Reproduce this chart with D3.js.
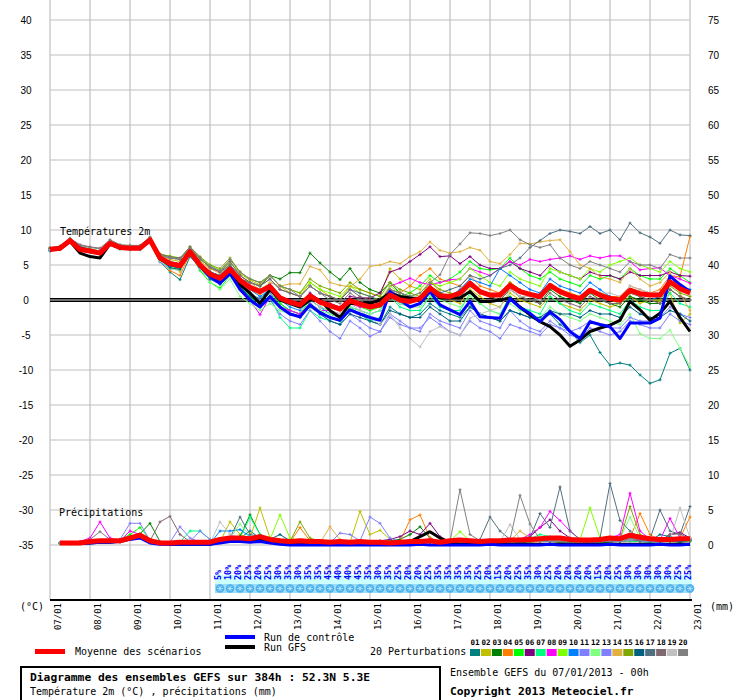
<!DOCTYPE html>
<html>
<head>
<meta charset="utf-8">
<script src="https://cdn.jsdelivr.net/npm/d3@7"></script>
<style>
  body { margin: 0; background: #fff; }
  svg { display: block; }
</style>
</head>
<body>
<div id="chart"></div>
<script>
// ---- Data ----
const dayLabels = ['07/01','08/01','09/01','10/01','11/01','12/01','13/01','14/01','15/01',
  '16/01','17/01','18/01','19/01','20/01','21/01','22/01','23/01'];
const tempTicks = [40,35,30,25,20,15,10,5,0,-5,-10,-15,-20,-25,-30,-35];
const precipTicks = [75,70,65,60,55,50,45,40,35,30,25,20,15,10,5,0];

const perturbColors = ['#008080','#c0c000','#008000','#ff8000','#00ff00','#800080','#00ff80','#ff00ff',
  '#80ff00','#0080ff','#8080ff','#80ff80','#8080ff','#e0b040','#80a800','#006080',
  '#507080','#806870','#c0c0c0','#808080'];

// temperatures 2m, every 6h from 07/01 00h (65 values)
const tempMean = [7.2,7.4,8.5,7.2,7.0,6.7,8.1,7.5,7.4,7.4,8.6,6.0,5.2,4.9,6.9,5.0,
  3.7,3.1,4.4,2.8,1.8,1.2,1.9,0.3,-0.3,-0.7,0.6,-0.3,-0.8,-1.3,-0.1,-0.6,
  -1.0,-0.7,0.7,0.0,-0.2,0.2,1.7,0.6,0.5,1.0,2.4,1.2,0.7,0.7,2.1,1.2,
  0.8,0.5,2.1,1.2,0.6,0.2,1.4,0.7,0.2,0.0,1.4,0.9,0.7,0.7,2.6,1.6,1.0];
const tempControl = [7.2,7.4,8.5,7.4,7.0,6.7,8.1,7.4,7.4,7.4,8.6,5.9,5.0,4.8,6.9,4.8,
  3.4,2.4,3.8,1.5,0.0,-1.0,0.5,-1.0,-2.0,-2.4,-0.7,-1.8,-2.5,-2.9,-1.4,-2.0,
  -2.5,-2.9,1.2,0.0,-1.0,-0.5,1.2,-0.7,-1.4,-2.1,-0.2,-2.4,-2.5,-2.6,0.2,-1.1,
  -1.9,-3.1,-1.7,-2.8,-4.5,-5.5,-3.1,-3.5,-3.8,-5.5,-3.3,-3.3,-3.3,-2.6,3.4,2.2,1.2];
const tempGFS = [7.2,7.3,8.4,6.7,6.2,6.0,8.0,7.4,7.4,7.4,8.5,5.9,5.1,4.8,6.8,4.9,
  3.6,3.0,4.3,2.2,1.0,-0.5,1.5,0.0,-0.5,-1.0,0.0,0.0,-1.5,-2.5,-0.5,-0.5,
  -0.5,0.0,1.0,0.5,0.3,0.2,1.5,0.3,0.3,0.3,1.2,-0.2,-0.2,0.0,0.3,-1.0,
  -2.1,-3.1,-3.8,-5.0,-6.6,-5.7,-4.5,-4.0,-3.6,-2.9,-0.2,-1.4,-2.9,-1.9,-0.2,-2.5,-4.5];
const tempPerturb = [
  // 01
  [7.0,7.2,8.4,7.2,6.8,6.6,8.0,7.4,7.2,7.3,8.5,5.5,4.0,2.9,6.2,4.6,
   3.0,2.5,4.0,2.0,0.8,0.2,1.5,-0.5,-1.5,-2.0,-0.5,-1.5,-2.5,-3.0,-1.5,-2.0,
   -3.0,-3.5,-1.0,-2.0,-2.5,-2.0,-0.5,-1.5,-2.0,-2.5,-1.0,-2.0,-2.5,-3.0,-1.5,-2.0,
   -2.5,-3.0,-2.0,-3.5,-4.5,-6.1,-5.0,-7.5,-9.3,-9.0,-9.3,-10.7,-11.9,-11.4,-7.6,-6.9,-10.0],
  // 02
  [7.4,7.6,8.7,7.6,7.2,7.0,8.3,7.8,7.6,7.6,8.9,6.4,5.8,5.5,7.2,5.6,
   4.5,4.0,5.3,3.8,2.8,2.2,3.5,2.0,1.0,0.5,2.5,1.5,0.5,0.0,2.0,1.5,
   1.0,0.5,4.5,3.0,2.0,1.5,3.0,1.0,0.0,-0.5,1.5,0.5,-0.5,-1.0,1.0,0.0,
   -0.5,-1.0,0.5,-0.5,-1.0,-1.5,0.0,-0.5,-1.0,-0.5,0.5,-0.5,0.0,-0.2,1.0,-3.3,-2.0],
  // 03
  [7.3,7.5,8.6,7.5,7.1,6.8,8.2,7.6,7.5,7.5,8.7,6.2,5.4,5.0,7.0,5.2,
   4.0,3.5,4.8,3.0,2.5,2.0,3.5,3.0,3.9,3.9,6.7,5.3,4.0,2.9,4.5,2.5,
   1.5,1.0,2.5,1.0,0.5,0.0,2.0,1.0,0.5,0.5,2.0,1.0,0.5,0.0,1.5,0.5,
   0.0,-0.5,1.5,0.5,0.0,-0.5,1.0,0.0,-0.5,-1.0,0.5,0.0,-0.5,-0.5,1.5,0.5,0.0],
  // 04
  [7.2,7.4,8.5,7.4,7.0,6.7,8.0,7.4,7.3,7.3,8.5,5.8,4.2,3.5,6.6,4.8,
   3.5,3.0,4.3,2.5,1.5,0.8,1.8,0.0,-0.5,-1.0,0.5,-0.5,-1.0,-1.5,0.0,-0.5,
   -0.5,0.0,1.5,1.0,2.0,3.5,4.5,3.0,2.5,2.0,3.5,2.0,1.5,1.0,2.5,1.5,
   1.0,0.5,2.0,1.5,1.0,0.5,1.5,1.0,0.5,0.5,2.0,1.5,1.0,1.5,3.5,3.3,9.1],
  // 05
  [7.1,7.3,8.4,7.3,6.9,6.6,7.9,7.3,7.3,7.3,8.5,5.7,4.8,4.5,6.8,4.2,
   2.5,1.7,3.5,1.5,0.5,-0.5,1.0,-0.5,-1.5,-2.0,0.0,-1.0,-1.5,-2.0,-0.5,-1.0,
   -1.5,-1.0,1.0,0.5,1.0,2.0,3.5,2.5,3.0,4.0,5.5,4.5,4.3,4.5,6.0,4.5,
   3.5,3.0,4.0,3.0,2.5,2.0,3.5,3.0,3.5,3.0,4.5,3.5,3.0,3.0,4.5,3.5,2.5],
  // 06
  [7.3,7.5,8.6,7.5,7.1,6.8,8.2,7.6,7.5,7.5,8.7,6.2,5.5,5.2,7.1,5.3,
   4.0,3.4,4.6,3.0,2.0,1.5,2.3,0.5,0.0,-0.5,1.0,0.0,-0.5,-1.0,0.5,0.3,
   0.3,1.0,4.0,4.5,5.5,6.5,7.6,6.2,6.3,5.2,6.2,5.0,4.5,4.5,5.5,4.5,
   4.0,3.5,5.0,4.0,3.5,3.0,4.0,3.5,3.5,3.0,4.0,3.5,3.5,3.5,4.0,3.5,3.4],
  // 07
  [7.1,7.3,8.4,7.3,6.9,6.6,8.0,7.3,7.2,7.2,8.4,5.8,5.0,4.6,6.6,4.8,
   3.2,2.6,3.8,2.0,0.5,-1.0,0.5,-2.5,-4.0,-4.0,-1.5,-2.5,-3.0,-3.5,-1.0,-2.0,
   -3.0,-2.5,0.5,-1.0,-1.5,-1.5,0.5,-1.0,-1.5,-1.5,1.0,-0.5,-1.5,-2.0,0.5,-1.0,
   -1.5,-2.0,0.5,-0.5,-1.5,-2.0,-0.5,-1.0,-1.5,-2.0,0.0,-1.0,-1.5,-1.5,1.0,-0.5,-1.0],
  // 08
  [7.3,7.4,8.5,7.4,7.0,6.7,8.1,7.5,7.4,7.4,8.6,6.0,5.2,4.9,6.9,5.0,
   3.5,2.8,4.2,2.0,0.0,-2.1,0.5,-1.0,-1.5,-2.0,-0.5,-1.5,-1.5,-2.0,-0.5,-1.0,
   -1.0,-0.5,2.0,2.5,3.1,2.5,2.2,2.5,2.9,3.0,4.5,4.0,3.5,4.5,5.5,5.0,
   5.8,5.5,5.8,6.0,6.3,5.8,6.3,6.0,6.3,6.3,5.5,4.3,4.5,4.6,3.5,3.0,2.4],
  // 09
  [7.4,7.5,8.7,7.6,7.2,6.9,8.3,7.7,7.6,7.6,8.9,6.5,6.3,6.0,7.5,6.0,
   5.0,4.2,5.5,4.0,3.0,2.5,3.5,2.0,1.5,1.0,2.5,1.5,1.0,0.5,2.0,1.0,
   0.5,0.0,2.0,1.0,0.5,1.0,2.5,2.0,2.5,3.0,4.5,3.5,2.5,2.0,4.0,3.0,
   2.5,2.0,4.5,4.0,3.5,3.0,4.5,4.0,5.0,5.5,6.0,5.0,4.5,4.0,5.5,4.5,4.0],
  // 10
  [7.2,7.4,8.5,7.3,6.9,6.7,8.1,7.5,7.4,7.4,8.6,6.0,5.4,5.1,7.0,5.1,
   4.0,3.5,5.0,3.0,1.5,0.5,1.5,0.0,-1.0,-1.5,0.0,-1.0,-2.0,-2.5,-1.0,-1.5,
   -2.0,-1.5,0.5,-0.5,-1.0,-0.5,1.5,0.5,0.5,1.5,3.0,2.5,2.0,4.5,3.5,2.5,
   1.5,1.0,3.0,2.0,1.5,1.0,2.5,1.5,0.5,0.0,1.5,0.5,0.0,0.5,3.5,2.0,1.5],
  // 11
  [7.0,7.2,8.3,7.2,6.8,6.5,7.8,7.3,7.2,7.2,8.3,5.4,4.5,4.2,6.5,4.4,
   3.0,2.2,3.5,1.5,0.0,-1.0,0.0,-2.0,-3.0,-3.5,-1.5,-3.0,-4.5,-5.5,-3.0,-4.0,
   -5.2,-4.5,-2.0,-3.0,-4.0,-4.5,-2.0,-3.0,-3.5,-4.0,-1.5,-3.0,-3.5,-4.0,-1.5,-3.0,
   -4.0,-4.5,-3.0,-4.0,-5.0,-5.5,-4.0,-4.5,-5.0,-4.5,-3.0,-3.5,-4.0,-4.0,-2.0,-3.0,-3.5],
  // 12
  [7.1,7.3,8.4,7.3,6.9,6.6,7.9,7.3,7.2,7.2,8.4,5.6,4.5,4.2,6.6,4.5,
   2.5,1.5,3.0,0.5,-0.5,-1.5,-0.5,-1.5,-2.0,-2.5,-0.5,-1.5,-2.0,-2.5,-1.0,-1.5,
   -2.0,-1.5,0.5,-0.5,-1.0,-1.0,0.5,0.0,-0.5,-1.0,0.5,-0.5,-1.5,-2.0,-0.5,-1.5,
   -2.0,-2.5,-1.0,-2.0,-2.5,-3.0,-2.0,-2.5,-3.0,-3.5,-2.0,-4.8,-5.5,-5.5,-4.3,-6.9,-9.5],
  // 13
  [7.2,7.4,8.5,7.4,7.0,6.7,8.0,7.4,7.3,7.3,8.5,5.9,5.0,4.7,6.8,4.9,
   3.4,2.8,4.0,2.5,1.0,0.0,1.0,-1.0,-2.0,-2.5,-0.5,-2.0,-3.0,-3.5,-2.0,-3.0,
   -4.0,-4.5,-2.5,-3.5,-4.0,-4.0,-2.5,-3.5,-4.5,-5.0,-3.0,-4.0,-4.5,-5.5,-3.5,-4.0,
   -4.5,-5.0,-3.5,-4.0,-4.5,-4.0,-3.0,-3.5,-4.0,-4.0,-2.5,-3.0,-3.0,-2.5,-1.0,-2.0,-2.5],
  // 14
  [7.3,7.5,8.6,7.6,7.2,6.9,8.2,7.6,7.5,7.5,8.7,6.3,5.8,4.0,7.0,5.5,
   4.5,3.8,5.0,3.5,2.5,1.5,2.5,2.0,2.3,2.3,4.8,4.3,2.5,2.1,1.9,3.0,
   4.8,5.0,5.5,5.2,6.2,6.9,8.3,7.1,6.7,6.9,7.5,7.1,5.5,5.2,6.5,8.1,
   8.0,8.3,8.5,8.6,6.9,5.0,4.5,3.3,3.0,2.5,4.5,3.0,2.0,2.5,4.0,1.0,-1.5],
  // 15
  [7.4,7.6,8.7,7.7,7.3,7.0,8.4,7.8,7.7,7.7,8.9,6.6,6.2,5.8,7.6,6.2,
   5.0,4.5,6.0,4.0,3.0,2.5,3.5,2.0,1.5,1.0,3.0,2.0,1.5,1.0,2.5,1.5,
   1.0,0.5,2.5,1.5,1.0,0.5,2.5,1.5,1.0,0.5,2.5,1.0,0.5,0.5,2.5,1.5,
   1.0,0.5,2.0,1.0,0.5,0.0,1.5,0.5,0.0,-0.5,1.0,0.5,0.0,0.0,2.0,1.0,0.5],
  // 16
  [7.1,7.3,8.4,7.3,6.9,6.6,8.0,7.4,7.3,7.3,8.5,5.8,4.6,4.4,6.7,4.7,
   3.0,2.3,3.8,1.8,0.5,-0.5,0.5,-1.0,-2.0,-2.5,-1.0,-2.0,-3.0,-3.5,-2.0,-2.5,
   -3.0,-3.5,-1.5,-2.0,-2.5,-2.5,-1.0,-2.0,-3.0,-3.0,-1.0,-2.0,-2.5,-3.0,-1.5,-2.0,
   -2.5,-2.5,-1.5,-2.0,-2.0,-2.5,-1.5,-2.0,-2.0,-2.5,-1.0,-2.0,-2.5,-2.5,-1.5,-2.0,-3.0],
  // 17
  [7.3,7.5,8.6,7.6,7.2,6.9,8.3,7.7,7.6,7.6,8.8,6.4,6.0,5.8,7.3,5.8,
   4.8,4.0,5.0,3.5,2.5,2.0,3.0,1.5,1.0,0.5,2.0,1.0,0.5,0.0,1.5,1.0,
   0.5,0.0,1.5,1.0,0.5,0.0,1.5,1.0,1.5,2.0,3.5,3.0,3.5,4.5,5.0,6.0,
   7.5,8.5,9.5,10.0,9.8,9.5,10.5,9.5,10.0,8.6,11.0,9.6,9.0,8.1,10.0,9.3,9.2],
  // 18
  [7.5,7.7,8.8,7.9,7.6,7.4,8.6,7.9,7.8,7.8,9.0,6.5,6.2,6.0,7.6,6.0,
   4.6,4.0,5.5,3.5,2.5,2.0,3.0,1.5,1.0,0.5,2.0,1.0,0.5,0.0,1.5,0.5,
   0.0,-0.5,1.5,0.5,0.5,0.0,1.5,0.5,0.0,0.5,2.0,1.0,0.5,0.0,1.5,0.5,
   0.0,-0.5,1.0,0.0,-0.5,-1.0,0.5,0.0,-0.5,-0.5,1.0,0.5,0.0,-0.5,1.5,0.5,0.0],
  // 19
  [7.2,7.4,8.5,7.4,7.0,6.7,8.1,7.5,7.4,7.4,8.6,6.0,5.0,4.8,6.8,5.0,
   3.6,3.0,4.3,2.5,1.5,1.0,1.8,0.0,-0.5,-1.0,0.0,-1.0,-1.5,-2.0,-0.5,-1.5,
   -2.5,-3.5,-2.0,-4.0,-5.5,-6.7,-4.5,-3.8,-4.5,-5.0,-2.6,-2.0,-1.5,-1.0,1.5,0.5,
   0.5,0.0,2.0,1.0,0.5,0.0,1.5,1.0,1.0,0.5,2.0,1.5,1.0,1.0,2.5,1.5,1.0],
  // 20
  [7.4,7.6,8.8,7.8,7.5,7.3,8.4,7.8,7.7,7.7,8.9,6.4,6.0,5.8,7.4,5.9,
   4.8,4.2,5.8,4.0,3.0,2.5,3.5,2.0,1.5,0.5,2.0,1.0,0.0,-0.5,1.0,0.0,
   -1.0,-0.5,1.5,1.0,0.5,1.0,2.5,3.6,6.5,8.0,9.6,9.5,9.2,9.5,10.0,8.6,
   7.9,7.5,7.9,6.0,5.0,4.5,5.5,5.0,4.5,4.0,5.5,5.0,5.0,4.5,6.5,6.0,6.0]
];

// precipitations (mm), every 6h from 07/01 06h (64 values)
const precipMean = [0.3,0.3,0.3,0.5,0.6,0.6,0.6,1.0,1.4,0.6,0.3,0.3,0.4,0.4,0.4,0.4,
  0.8,1.0,1.0,0.9,1.2,0.8,0.6,0.5,0.6,0.5,0.5,0.4,0.5,0.4,0.5,0.4,
  0.4,0.3,0.4,0.5,0.5,0.6,0.4,0.6,0.7,0.6,0.5,0.6,0.6,0.7,0.7,0.8,
  0.9,1.0,1.0,0.8,0.7,0.7,0.8,1.0,0.9,1.4,1.1,0.9,0.8,0.8,0.9,0.9];
const precipControl = [0.3,0.2,0.2,0.3,0.4,0.4,0.5,0.8,1.0,0.3,0.1,0.1,0.1,0.1,0.1,0.1,
  0.3,0.5,0.5,0.4,0.5,0.3,0.1,0.0,0.0,0.0,0.0,0.0,0.0,0.0,0.0,0.0,
  0.0,0.0,0.0,0.0,0.1,0.0,0.0,0.0,0.0,0.0,0.0,0.1,0.0,0.0,0.0,0.0,
  0.0,0.1,0.0,0.0,0.0,0.0,0.0,0.1,0.0,0.0,0.0,0.0,0.1,0.0,0.0,0.1];
const precipGFS = [0.3,0.2,0.2,0.3,0.4,0.4,0.6,1.0,1.5,0.4,0.2,0.1,0.1,0.1,0.1,0.1,
  0.5,0.6,0.7,0.6,0.8,0.5,0.3,0.2,0.2,0.1,0.1,0.1,0.1,0.1,0.1,0.1,
  0.1,0.1,0.2,0.5,1.2,1.9,1.0,0.3,0.1,0.1,0.1,0.2,0.1,0.1,0.1,0.1,
  0.1,0.1,0.1,0.1,0.1,0.1,0.1,0.1,0.1,0.1,0.1,0.1,0.1,0.1,0.1,0.1];
const precipPerturb = [
  [0.3,0.3,0.2,0.5,0.6,0.5,0.4,0.8,1.0,0.4,0.2,0.2,0.3,0.4,0.3,0.2,0.6,0.8,1.0,2.0,1.0,0.5,0.4,0.3,0.4,0.2,0.3,0.2,0.3,0.2,0.3,0.2,
   0.2,0.1,0.2,0.3,0.3,0.4,0.2,0.3,0.4,0.3,0.2,0.3,0.2,0.4,0.3,0.5,0.6,0.7,0.5,0.4,0.3,0.5,0.6,0.8,0.5,1.0,0.8,0.6,1.5,1.2,0.8,0.6],
  [0.2,0.3,0.3,0.4,0.5,0.7,0.5,1.0,1.5,0.5,0.2,0.3,0.2,0.3,0.2,0.3,0.5,3.3,1.5,1.0,5.3,1.0,0.5,0.4,0.6,0.5,0.4,0.3,0.5,0.4,4.8,1.5,
   2.1,0.8,0.3,0.4,0.5,0.4,0.3,0.3,0.4,0.3,0.4,0.5,0.3,0.4,0.5,0.4,0.6,0.5,0.4,0.3,0.3,0.4,0.5,0.6,0.8,1.2,0.6,0.5,0.4,0.5,0.6,0.5],
  [0.3,0.2,0.3,0.5,0.6,0.5,0.8,1.2,1.6,3.1,0.5,0.3,0.3,0.2,0.3,0.2,0.8,1.0,1.2,4.3,1.5,0.8,0.5,0.4,0.5,0.4,0.3,0.4,0.3,0.3,0.4,0.3,
   0.5,0.6,0.8,1.5,2.6,1.0,0.4,0.3,0.5,0.4,0.3,0.4,0.5,0.4,0.3,0.5,0.6,0.5,0.4,0.3,0.5,0.4,0.3,0.4,0.5,0.6,0.5,0.4,0.6,0.5,0.4,0.5],
  [0.2,0.3,0.2,0.4,0.5,0.6,0.4,0.8,1.2,0.5,0.3,0.2,0.3,0.3,0.2,0.2,0.5,0.8,0.9,0.8,1.0,0.6,0.5,0.4,2.5,0.6,0.4,0.3,0.4,0.3,0.4,0.3,
   0.3,0.4,0.5,3.6,4.3,1.0,0.4,0.3,0.4,0.5,0.3,0.4,0.4,0.5,0.6,0.4,0.5,0.8,0.6,0.4,0.3,0.4,0.5,0.6,0.7,1.0,4.5,1.5,0.6,0.5,1.0,4.0],
  [0.3,0.3,0.3,0.5,0.6,0.6,0.8,1.5,2.5,0.8,0.3,0.2,0.4,0.3,0.3,0.2,0.6,0.9,1.0,0.8,1.2,0.7,0.6,0.4,0.5,0.4,0.3,0.3,0.4,0.2,0.3,0.3,
   0.3,0.2,0.3,0.4,0.5,0.4,0.3,0.4,0.5,0.6,0.4,0.5,0.3,0.4,0.5,0.6,0.8,0.7,0.6,0.5,0.4,0.6,0.5,0.7,0.6,0.8,0.7,0.6,0.5,0.6,0.7,0.8],
  [0.3,0.2,0.3,0.4,0.6,0.6,0.5,0.9,1.2,0.5,0.3,0.3,0.2,0.3,0.2,0.3,0.7,0.8,1.1,1.0,1.3,0.9,0.6,0.5,0.4,0.5,0.3,0.4,0.3,0.4,0.3,0.5,
   0.6,0.8,1.2,2.0,1.5,3.1,1.2,0.5,0.4,0.6,0.5,0.7,0.6,0.5,0.8,1.2,2.5,3.6,2.0,1.0,0.7,0.6,0.5,0.8,0.6,1.2,0.8,0.7,0.6,1.5,1.8,1.0],
  [0.2,0.3,0.3,0.4,0.5,0.6,0.5,1.0,1.3,0.6,0.3,0.3,0.4,2.0,2.0,0.8,0.6,0.8,1.0,4.0,1.5,0.6,0.5,0.3,0.4,0.3,0.3,0.4,0.3,0.4,0.3,0.4,
   0.3,0.4,0.5,0.6,0.5,0.4,0.3,0.5,0.6,0.5,0.4,0.3,0.4,0.5,0.7,0.9,1.5,1.2,0.8,0.6,0.5,0.4,0.6,0.5,0.7,0.6,0.5,0.4,0.5,0.6,0.5,0.6],
  [0.3,0.3,0.5,1.0,3.3,1.0,0.6,2.0,1.5,0.5,0.2,0.2,0.3,0.2,0.3,0.2,0.5,0.7,0.9,1.0,1.1,0.7,0.5,0.4,0.3,0.4,0.3,0.3,0.2,0.3,0.2,0.3,
   0.3,0.4,0.5,0.6,0.5,0.8,0.4,0.3,0.5,0.4,0.6,0.5,0.4,0.6,0.8,1.5,2.5,4.8,3.5,2.0,0.8,0.6,0.5,1.0,1.5,7.4,2.0,0.8,0.7,3.8,1.0,0.8],
  [0.3,0.3,0.3,0.5,0.6,0.5,0.6,1.0,1.4,0.6,0.3,0.2,0.3,0.3,0.2,0.3,0.6,0.9,1.0,1.1,1.3,0.8,4.3,1.0,0.5,0.4,0.3,0.4,0.3,0.2,0.3,0.3,
   0.4,0.3,0.4,0.5,0.6,0.5,0.4,0.6,1.9,0.6,0.4,0.5,0.4,0.3,0.5,0.6,0.7,0.6,0.8,0.6,0.7,5.3,1.0,0.6,0.5,0.8,0.7,0.6,0.5,0.7,0.8,0.6],
  [0.2,0.3,0.3,0.4,0.6,0.6,0.5,0.9,1.3,0.5,0.3,0.2,0.3,0.3,0.3,0.2,2.0,2.0,2.2,1.2,1.3,0.7,0.5,0.4,0.4,0.3,0.3,0.2,0.3,0.2,0.3,0.2,
   0.3,0.4,0.3,0.4,0.5,0.4,0.3,0.4,0.3,0.5,0.4,0.5,0.4,0.6,0.5,0.7,0.8,0.7,0.6,0.5,0.4,0.5,0.6,0.7,0.6,0.9,0.7,0.6,0.5,0.7,0.8,0.7],
  [0.3,0.3,0.3,0.5,0.6,0.6,0.8,3.1,3.1,0.6,0.3,0.4,2.6,1.0,0.4,0.3,0.5,0.7,0.9,1.0,1.0,0.7,0.5,0.4,0.5,0.3,0.4,0.3,1.7,1.5,0.6,4.0,
   3.1,1.0,0.5,0.4,0.3,0.4,0.3,0.4,0.5,0.3,0.4,0.3,0.4,0.5,0.4,0.6,0.7,0.8,0.6,0.5,0.4,0.3,0.5,0.6,0.5,0.7,0.6,0.5,0.4,0.6,0.7,0.6],
  [0.3,0.2,0.3,0.4,0.6,0.5,0.6,1.0,1.4,0.5,0.3,0.3,0.4,0.3,0.2,0.3,0.7,0.9,3.0,1.2,1.0,0.8,0.5,0.4,0.3,0.4,0.3,0.3,0.4,0.3,0.2,0.3,
   0.3,0.4,0.3,0.5,0.4,0.5,0.3,0.4,0.5,0.4,0.3,0.4,0.5,0.4,0.6,0.5,0.7,0.6,0.5,0.4,0.5,0.6,0.8,0.7,0.9,4.0,1.0,0.7,0.6,0.5,0.7,0.6],
  [0.3,0.3,0.2,0.5,0.5,0.6,0.5,0.9,1.2,0.5,0.3,0.3,0.3,0.5,2.0,0.8,0.5,0.7,0.8,1.0,1.1,0.7,0.5,0.4,0.4,0.3,0.3,0.4,0.3,0.3,0.2,0.3,
   0.4,0.3,0.4,0.3,0.4,0.5,0.3,0.4,0.3,0.5,0.4,0.3,0.5,0.4,0.6,0.5,0.6,0.5,0.6,0.4,0.5,0.4,0.6,0.5,0.7,0.8,0.6,0.5,0.5,0.6,0.5,0.7],
  [0.3,0.3,0.3,0.4,0.6,0.7,0.6,1.0,1.3,0.6,0.2,0.3,0.2,0.3,0.3,0.2,0.6,0.8,1.0,0.9,1.2,0.8,0.6,0.4,0.5,0.4,0.3,2.6,0.8,0.4,0.3,0.4,
   0.5,0.4,0.3,0.5,0.6,0.4,0.3,0.4,0.5,0.4,0.6,0.5,0.4,0.6,2.0,1.0,0.8,0.7,0.6,0.5,0.4,0.5,0.6,0.8,0.7,1.5,1.2,0.8,0.6,0.7,0.8,0.9],
  [0.2,0.3,0.3,0.4,0.5,0.6,0.6,0.9,1.3,0.6,0.3,0.2,0.3,0.3,0.2,0.3,0.5,0.7,0.9,1.0,1.0,0.7,0.6,0.5,3.3,1.0,0.5,0.4,0.3,0.4,0.3,0.3,
   0.4,0.3,0.4,0.5,0.4,0.5,0.4,0.3,0.4,0.5,0.4,0.5,0.4,0.5,0.6,0.7,0.6,0.8,0.7,0.6,0.5,0.6,0.7,0.8,0.9,5.5,1.5,0.8,0.7,0.6,0.8,0.7],
  [0.3,0.2,0.3,0.5,0.6,0.6,0.5,0.9,1.2,0.5,0.3,0.3,0.2,0.3,0.3,0.2,0.6,0.8,1.0,1.1,1.2,0.8,1.5,0.6,0.4,0.5,0.3,0.4,0.3,0.3,0.4,0.3,
   0.3,0.4,0.3,0.4,0.5,0.4,0.5,0.4,0.3,0.4,0.5,0.4,0.3,0.5,0.4,0.6,0.7,0.6,0.5,0.6,0.5,0.4,0.6,0.7,0.6,0.8,0.7,0.6,0.8,0.6,0.5,0.7],
  [0.3,0.3,0.3,0.5,0.6,0.5,0.6,1.0,1.3,0.6,0.3,0.2,0.3,0.3,0.3,0.3,0.7,1.0,4.0,1.5,1.2,0.8,0.6,0.5,0.4,0.4,0.3,0.4,0.3,0.4,0.3,0.3,
   0.4,0.5,0.4,0.5,0.4,0.6,0.5,0.4,0.6,0.5,0.8,4.0,2.0,0.8,0.6,1.0,4.5,2.5,8.3,2.0,0.8,0.7,1.0,8.8,3.5,2.0,1.0,0.9,5.0,2.0,1.5,5.5],
  [0.3,0.3,0.3,0.4,0.6,0.6,0.5,1.0,1.2,0.6,3.3,4.1,1.5,0.5,0.3,0.2,0.5,0.7,0.9,1.0,1.1,0.7,0.5,0.4,0.3,0.4,0.3,0.4,0.3,0.3,0.4,0.3,
   0.4,0.3,0.5,0.4,0.6,0.5,0.4,0.3,0.5,0.4,0.3,0.5,0.4,0.5,0.6,0.5,0.7,0.6,0.5,0.6,0.5,0.4,0.6,0.5,0.7,0.8,0.6,0.7,0.5,1.5,1.6,0.8],
  [0.3,0.3,0.3,0.5,0.5,0.6,0.6,0.9,1.3,0.5,0.3,0.2,0.3,0.3,0.3,0.2,3.3,1.5,1.0,0.9,1.1,0.8,0.5,0.4,0.5,0.4,0.3,0.4,0.3,0.3,0.3,0.4,
   0.3,0.4,0.3,0.5,0.4,0.5,0.6,0.5,0.4,0.5,0.4,0.6,0.5,2.9,0.8,0.6,0.7,0.6,0.5,0.4,0.6,0.5,0.6,0.7,0.6,0.8,0.9,0.7,0.6,0.8,5.3,1.0],
  [0.3,0.3,0.5,0.8,1.9,0.8,0.6,1.0,1.4,0.5,0.3,0.3,0.3,0.2,0.3,0.3,0.6,0.8,1.0,0.9,1.2,0.7,0.6,0.5,0.4,0.3,0.4,0.3,0.4,0.3,0.3,0.4,
   0.3,0.4,0.5,0.4,0.3,0.5,0.6,0.5,7.9,1.5,0.6,0.5,0.4,0.8,7.1,3.0,0.8,0.6,0.5,0.4,0.5,0.6,0.5,0.7,0.6,0.9,0.8,0.6,0.7,0.6,0.8,0.7]
];

// snow probability per 6h step, from 11/01 00h to 23/01 00h
const snowPct = [5,10,20,25,20,25,30,35,30,35,35,45,40,40,45,35,
  30,35,25,20,20,25,35,35,35,35,25,20,15,20,25,35,
  30,25,20,20,20,20,15,20,25,30,30,30,30,30,25,25];

// ---- Chart ----
const width = 740, height = 700;
const mono = '"DejaVu Sans Mono", monospace';

const svg = d3.select('#chart').append('svg')
  .attr('width', width).attr('height', height)
  .style('font-family', mono);

// scales: hours since 07/01 00h, temperature on the left, precipitation on the right
const x = d3.scaleLinear().domain([0, 384]).range([50, 690]);
const yT = d3.scaleLinear().domain([-35, 40]).range([545, 20]);
const yP = d3.scaleLinear().domain([0, 75]).range([545, 20]);

// Grid
const grid = svg.append('g').attr('stroke', '#c0c0c0').attr('stroke-width', 1.2);
grid.selectAll('.v').data(dayLabels).join('line')
  .attr('x1', (d, i) => x(i * 24)).attr('x2', (d, i) => x(i * 24))
  .attr('y1', 0).attr('y2', 600);
grid.selectAll('.h').data(tempTicks).join('line')
  .attr('x1', x(0)).attr('x2', x(384))
  .attr('y1', d => yT(d)).attr('y2', d => yT(d));

// Double zero line
[-1.2, 1.2].forEach(o => {
  svg.append('line')
    .attr('x1', x(0)).attr('x2', x(384))
    .attr('y1', yT(0) + o).attr('y2', yT(0) + o)
    .attr('stroke', '#000').attr('stroke-width', 1.4);
});

// Axis labels
svg.append('g').selectAll('text').data(tempTicks).join('text')
  .attr('x', 26).attr('y', d => yT(d) + 4)
  .attr('text-anchor', 'middle')
  .style('font-family', '"Liberation Sans", Arial, sans-serif')
  .style('font-size', '10px')
  .text(d => d);
svg.append('g').selectAll('text').data(precipTicks).join('text')
  .attr('x', 708).attr('y', d => yP(d) + 4)
  .style('font-family', '"Liberation Sans", Arial, sans-serif')
  .style('font-size', '10px')
  .text(d => d);

// Section titles
svg.append('text').attr('x', 60).attr('y', 235).style('font-size', '10px').text('Températures 2m');
svg.append('text').attr('x', 59).attr('y', 516).style('font-size', '10px').text('Précipitations');

// Lines
const tLine = d3.line().x((d, i) => x(i * 6)).y(d => yT(d));
const pLine = d3.line().x((d, i) => x((i + 1) * 6)).y(d => yP(d));
const cross = 'M-1.5,0H1.5M0,-1.5V1.5';

const drawPerturb = (series, line, xf, yf) => {
  series.forEach((s, k) => {
    const g = svg.append('g');
    g.append('path').attr('d', line(s))
      .attr('fill', 'none').attr('stroke', perturbColors[k]).attr('stroke-width', 1);
    g.selectAll('path.m').data(s).join('path')
      .attr('class', 'm')
      .attr('d', cross)
      .attr('transform', (d, i) => `translate(${xf(i)},${yf(d)})`)
      .attr('stroke', perturbColors[k]).attr('stroke-width', 1);
  });
};
drawPerturb(tempPerturb, tLine, i => x(i * 6), d => yT(d));
drawPerturb(precipPerturb, pLine, i => x((i + 1) * 6), d => yP(d));

const thick = (data, line, color, w) => {
  svg.append('path').attr('d', line(data))
    .attr('fill', 'none').attr('stroke', color).attr('stroke-width', w)
    .attr('stroke-linejoin', 'round');
};
thick(tempGFS, tLine, '#000', 3);
thick(tempControl, tLine, '#0000ff', 3);
thick(tempMean, tLine, '#ff0000', 5);
thick(precipGFS, pLine, '#000', 3);
thick(precipControl, pLine, '#0000ff', 3);
thick(precipMean, pLine, '#ff0000', 5);

// Snow strip: band behind the labels, labels and snowflakes
const snow = svg.append('g');
snow.append('rect')
  .attr('x', x(96) + 5).attr('y', 575).attr('width', x(384) - x(96) - 3).attr('height', 9)
  .attr('fill', '#ccffff');
snow.append('rect')
  .attr('x', x(96) + 5).attr('y', 584).attr('width', x(384) - x(96) - 3).attr('height', 9)
  .attr('fill', '#9cdcf6');
snow.selectAll('text').data(snowPct).join('text')
  .attr('transform', (d, i) => `translate(${x(96 + (i + 1) * 6) + 1},580) rotate(-90)`)
  .attr('fill', '#0000ff')
  .style('font-size', '8.5px').style('font-weight', 'bold')
  .text(d => d + '%');
const flakes = snow.selectAll('g.f').data(snowPct).join('g')
  .attr('class', 'f')
  .attr('transform', (d, i) => `translate(${x(96 + i * 6) + 10},588.5)`);
flakes.append('circle').attr('r', 4.3).attr('fill', '#4cb0ec');
flakes.append('path').attr('d', 'M-3,0H3M-1.5,-2.6L1.5,2.6M-1.5,2.6L1.5,-2.6')
  .attr('stroke', '#b8e8ff').attr('stroke-width', 0.8);

// X axis
svg.append('line').attr('x1', x(0)).attr('x2', x(384) + 2).attr('y1', 600).attr('y2', 600)
  .attr('stroke', '#000').attr('stroke-width', 2);
svg.append('g').selectAll('text').data(dayLabels).join('text')
  .attr('transform', (d, i) => `translate(${x(i * 24) + 11},603) rotate(-90)`)
  .attr('text-anchor', 'end')
  .style('font-size', '9px')
  .text(d => d);
svg.append('text').attr('x', 20).attr('y', 610).style('font-size', '10px').text('(°C)');
svg.append('text').attr('x', 710).attr('y', 610).style('font-size', '10px').text('(mm)');

// Legend
svg.append('line').attr('x1', 35).attr('x2', 65).attr('y1', 651.5).attr('y2', 651.5)
  .attr('stroke', '#ff0000').attr('stroke-width', 5);
svg.append('text').attr('x', 75).attr('y', 655).style('font-size', '10px').text('Moyenne des scénarios');
svg.append('line').attr('x1', 225).attr('x2', 255).attr('y1', 637).attr('y2', 637)
  .attr('stroke', '#0000ff').attr('stroke-width', 4);
svg.append('line').attr('x1', 225).attr('x2', 255).attr('y1', 647).attr('y2', 647)
  .attr('stroke', '#000').attr('stroke-width', 4);
svg.append('text').attr('x', 264).attr('y', 641).style('font-size', '10px').text('Run de contrôle');
svg.append('text').attr('x', 264).attr('y', 651).style('font-size', '10px').text('Run GFS');
svg.append('text').attr('x', 370).attr('y', 655).style('font-size', '10px').text('20 Perturbations');

const leg = svg.append('g').selectAll('g').data(perturbColors).join('g')
  .attr('transform', (d, i) => `translate(${470 + i * 10.95},0)`);
leg.append('rect').attr('y', 649).attr('width', 10).attr('height', 7).attr('fill', d => d);
leg.append('text').attr('x', 5).attr('y', 645).attr('text-anchor', 'middle')
  .style('font-size', '7.5px').style('font-weight', 'bold')
  .text((d, i) => String(i + 1).padStart(2, '0'));

// Title box
svg.append('rect').attr('x', 21).attr('y', 667).attr('width', 419).attr('height', 40)
  .attr('fill', 'none').attr('stroke', '#000').attr('stroke-width', 2);
svg.append('text').attr('x', 30).attr('y', 681)
  .style('font-size', '11.3px').style('font-weight', 'bold')
  .text('Diagramme des ensembles GEFS sur 384h : 52.3N 5.3E');
svg.append('text').attr('x', 30).attr('y', 695).style('font-size', '10px')
  .text('Température 2m (°C) , précipitations (mm)');
svg.append('text').attr('x', 450).attr('y', 676).style('font-size', '10px')
  .text('Ensemble GEFS du 07/01/2013 - 00h');
svg.append('text').attr('x', 450).attr('y', 695)
  .style('font-size', '11.3px').style('font-weight', 'bold')
  .text('Copyright 2013 Meteociel.fr');
</script>
</body>
</html>
